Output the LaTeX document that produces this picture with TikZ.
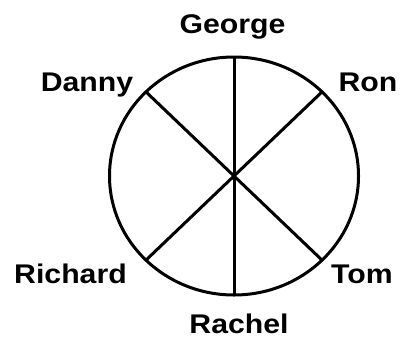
\documentclass[tikz,border=0pt]{standalone}
\usepackage{fontspec}
\setmainfont{Liberation Sans}[FakeStretch=1.12]
\begin{document}
\begin{tikzpicture}[x=1pt,y=-1pt,
  lbl/.style={anchor=base,inner sep=0pt,font=\fontsize{27}{30}\selectfont\bfseries},
  rim/.style={line width=3pt},
  spoke/.style={line width=3pt}]
\useasboundingbox (0,0) rectangle (403,340);
\coordinate (c) at (234,176);
\draw[rim] (c) ellipse [x radius=124.5, y radius=119];
\path (c) ++(0,-119) coordinate (top) (c) ++(0,119) coordinate (bot)
      (c) ++(-88.0,-84.1) coordinate (ul) (c) ++(88.0,-84.1) coordinate (ur)
      (c) ++(-88.0,84.1) coordinate (ll) (c) ++(88.0,84.1) coordinate (lr);
\draw[spoke] (top) -- (bot);
\draw[spoke] (ul) -- (lr);
\draw[spoke] (ur) -- (ll);
\node[lbl] (george) at (232.5,33) {George};
\node[lbl] (danny) at (87,91) {Danny};
\node[lbl] (ron) at (368,91) {Ron};
\node[lbl] (richard) at (70.5,283) {Richard};
\node[lbl] (tom) at (362,283) {Tom};
\node[lbl] (rachel) at (239,333) {Rachel};
\end{tikzpicture}
\end{document}
